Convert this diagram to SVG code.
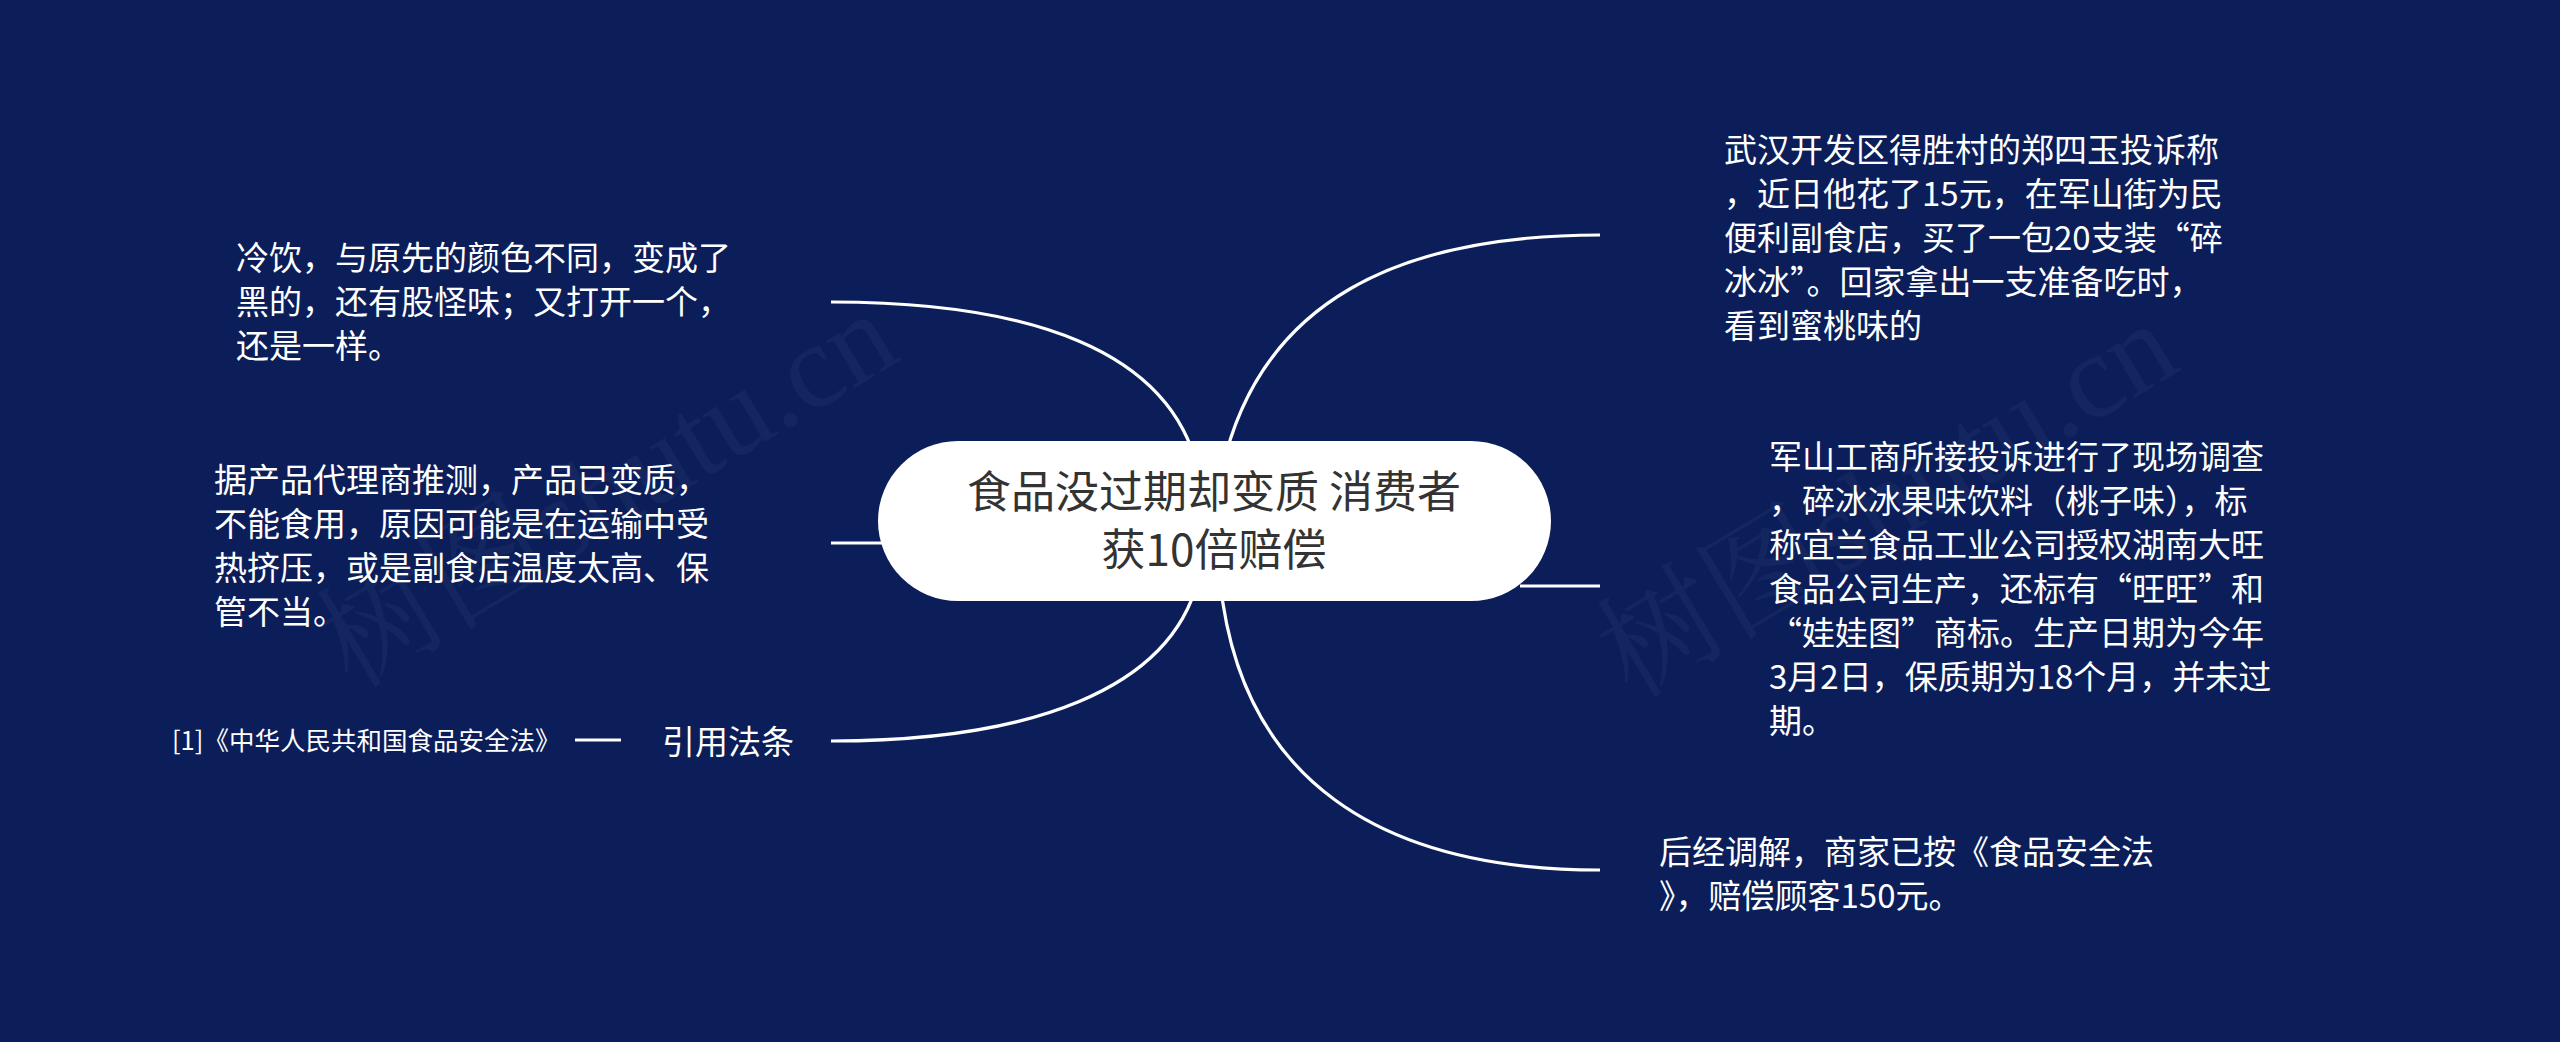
<svg xmlns="http://www.w3.org/2000/svg" width="2560" height="1042" viewBox="0 0 2560 1042">
<style>
.bg{fill:#0b1e59}
.wm{font-family:"Liberation Serif","Noto Serif CJK SC","Noto Sans CJK SC",serif;font-size:120px;fill:#ffffff;fill-opacity:0.04}
.conn{fill:none;stroke:#ffffff;stroke-width:3.2;stroke-linecap:butt}
.root{fill:#ffffff}
.rt{font-family:"Noto Sans CJK SC","Noto Sans",sans-serif;font-size:44px;fill:#333333;text-anchor:middle}
.t{font-family:"Noto Sans CJK SC","Noto Sans",sans-serif;font-size:33px;fill:#ffffff}
.ts{font-family:"Noto Sans CJK SC","Noto Sans",sans-serif;font-size:25.5px;fill:#ffffff}
</style>
<rect class="bg" x="0" y="0" width="2560" height="1042"/>
<g id="watermarks">
<text class="wm" transform="translate(352,690) rotate(-31)">树图shutu.cn</text>
<text class="wm" transform="translate(1632,700) rotate(-31)">树图shutu.cn</text>
</g>
<g id="connectors">
<path class="conn" d="M 1198 470 C 1170 350, 1030 302, 831 302"/>
<path class="conn" d="M 900 543 L 831 543"/>
<path class="conn" d="M 1198 580 C 1170 690, 1030 741, 831 741"/>
<path class="conn" d="M 1222 470 C 1260 300, 1400 235, 1600 235"/>
<path class="conn" d="M 1520 586 L 1600 586"/>
<path class="conn" d="M 1220 580 C 1240 780, 1380 870, 1600 870"/>
<path class="conn" d="M 575 740 L 621 740"/>
</g>
<g id="root">
<rect class="root" x="878" y="441" width="673" height="160" rx="80" ry="80"/>
<text class="rt" x="1214" y="508">食品没过期却变质 消费者</text>
<text class="rt" x="1214" y="566">获10倍赔偿</text>
</g>
<g id="node-r1">
<text class="t" x="1724" y="162">武汉开发区得胜村的郑四玉投诉称</text>
<text class="t" x="1724" y="206">，近日他花了15元，在军山街为民</text>
<text class="t" x="1724" y="250">便利副食店，买了一包20支装“碎</text>
<text class="t" x="1724" y="294">冰冰”。回家拿出一支准备吃时，</text>
<text class="t" x="1724" y="338">看到蜜桃味的</text>
</g>
<g id="node-r2">
<text class="t" x="1769" y="469">军山工商所接投诉进行了现场调查</text>
<text class="t" x="1769" y="513">，碎冰冰果味饮料（桃子味），标</text>
<text class="t" x="1769" y="557">称宜兰食品工业公司授权湖南大旺</text>
<text class="t" x="1769" y="601">食品公司生产，还标有“旺旺”和</text>
<text class="t" x="1769" y="645">“娃娃图”商标。生产日期为今年</text>
<text class="t" x="1769" y="689">3月2日，保质期为18个月，并未过</text>
<text class="t" x="1769" y="733">期。</text>
</g>
<g id="node-r3">
<text class="t" x="1659" y="864">后经调解，商家已按《食品安全法</text>
<text class="t" x="1659" y="908">》，赔偿顾客150元。</text>
</g>
<g id="node-l1">
<text class="t" x="236" y="270">冷饮，与原先的颜色不同，变成了</text>
<text class="t" x="236" y="314">黑的，还有股怪味；又打开一个，</text>
<text class="t" x="236" y="358">还是一样。</text>
</g>
<g id="node-l2">
<text class="t" x="214" y="492">据产品代理商推测，产品已变质，</text>
<text class="t" x="214" y="536">不能食用，原因可能是在运输中受</text>
<text class="t" x="214" y="580">热挤压，或是副食店温度太高、保</text>
<text class="t" x="214" y="624">管不当。</text>
</g>
<g id="node-l3">
<text class="t" x="662" y="754">引用法条</text>
</g>
<g id="node-l3-ref">
<text class="ts" x="172" y="750">[1]《中华人民共和国食品安全法》</text>
</g>
</svg>
